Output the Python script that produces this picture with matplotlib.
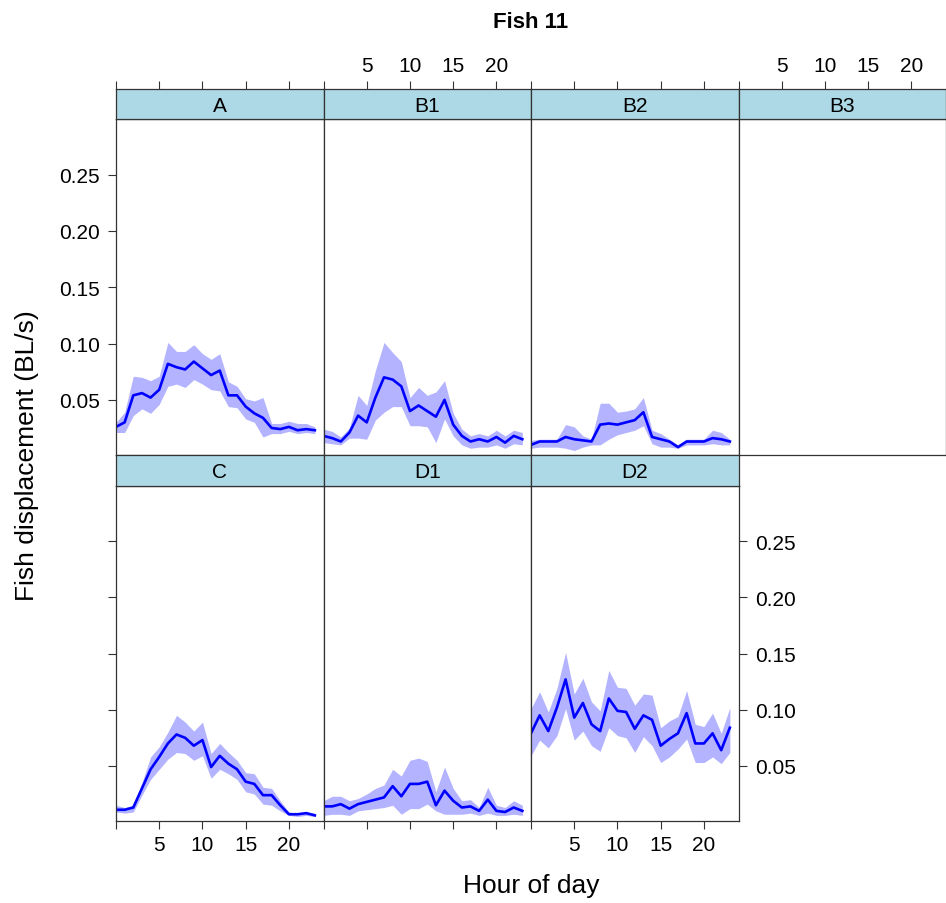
import numpy as np
import matplotlib
matplotlib.use("Agg")
import matplotlib.pyplot as plt

plt.rcParams["font.family"] = ["Liberation Sans", "DejaVu Sans"]

hours = np.arange(24)

a_mean = [0.026, 0.030, 0.054, 0.056, 0.052, 0.059, 0.082, 0.079, 0.077, 0.084, 0.078, 0.072,
          0.076, 0.054, 0.054, 0.044, 0.038, 0.034, 0.025, 0.024, 0.026, 0.023, 0.024, 0.023]
a_hi = [0.030, 0.039, 0.071, 0.070, 0.067, 0.071, 0.101, 0.093, 0.093, 0.099, 0.091, 0.086,
        0.091, 0.066, 0.062, 0.051, 0.049, 0.052, 0.029, 0.029, 0.031, 0.029, 0.029, 0.026]
a_lo = [0.021, 0.021, 0.036, 0.042, 0.038, 0.046, 0.062, 0.064, 0.061, 0.068, 0.064, 0.059,
        0.058, 0.044, 0.043, 0.033, 0.030, 0.017, 0.020, 0.020, 0.022, 0.020, 0.021, 0.020]

b1_mean = [0.018, 0.016, 0.013, 0.021, 0.036, 0.030, 0.052, 0.070, 0.068, 0.062, 0.040, 0.045,
           0.040, 0.035, 0.050, 0.028, 0.018, 0.013, 0.015, 0.013, 0.017, 0.012, 0.018, 0.015]
b1_hi = [0.024, 0.022, 0.017, 0.025, 0.054, 0.045, 0.076, 0.101, 0.092, 0.084, 0.052, 0.061,
         0.054, 0.057, 0.067, 0.038, 0.024, 0.018, 0.020, 0.018, 0.023, 0.018, 0.023, 0.021]
b1_lo = [0.012, 0.011, 0.010, 0.016, 0.016, 0.015, 0.032, 0.039, 0.044, 0.044, 0.027, 0.027,
         0.026, 0.012, 0.033, 0.018, 0.010, 0.007, 0.008, 0.008, 0.010, 0.007, 0.011, 0.010]

b2_mean = [0.010, 0.013, 0.013, 0.013, 0.017, 0.015, 0.014, 0.013, 0.028, 0.029, 0.028, 0.030,
           0.032, 0.039, 0.017, 0.015, 0.013, 0.008, 0.013, 0.013, 0.013, 0.016, 0.015, 0.013]
b2_hi = [0.014, 0.015, 0.015, 0.015, 0.028, 0.026, 0.018, 0.015, 0.047, 0.047, 0.039, 0.040,
         0.042, 0.052, 0.023, 0.020, 0.015, 0.010, 0.015, 0.015, 0.015, 0.023, 0.021, 0.015]
b2_lo = [0.007, 0.008, 0.008, 0.008, 0.007, 0.005, 0.008, 0.010, 0.010, 0.015, 0.019, 0.021,
         0.023, 0.027, 0.011, 0.008, 0.008, 0.007, 0.010, 0.010, 0.010, 0.011, 0.010, 0.010]

c_mean = [0.011, 0.011, 0.013, 0.030, 0.047, 0.058, 0.070, 0.078, 0.075, 0.068, 0.073, 0.049,
          0.059, 0.052, 0.047, 0.036, 0.034, 0.024, 0.024, 0.015, 0.007, 0.007, 0.008, 0.006]
c_hi = [0.015, 0.013, 0.015, 0.035, 0.058, 0.067, 0.080, 0.095, 0.089, 0.081, 0.089, 0.061,
        0.070, 0.062, 0.055, 0.044, 0.043, 0.031, 0.030, 0.019, 0.009, 0.008, 0.009, 0.008]
c_lo = [0.009, 0.008, 0.009, 0.024, 0.038, 0.047, 0.056, 0.062, 0.061, 0.055, 0.059, 0.039,
        0.047, 0.043, 0.038, 0.027, 0.025, 0.016, 0.015, 0.010, 0.006, 0.005, 0.006, 0.005]

d1_mean = [0.014, 0.014, 0.016, 0.012, 0.016, 0.018, 0.020, 0.022, 0.032, 0.023, 0.034, 0.034,
           0.036, 0.015, 0.028, 0.019, 0.013, 0.014, 0.010, 0.020, 0.010, 0.009, 0.013, 0.010]
d1_hi = [0.019, 0.023, 0.023, 0.019, 0.021, 0.025, 0.030, 0.033, 0.047, 0.041, 0.055, 0.057,
         0.054, 0.027, 0.049, 0.030, 0.019, 0.020, 0.013, 0.031, 0.015, 0.013, 0.019, 0.015]
d1_lo = [0.006, 0.007, 0.007, 0.006, 0.010, 0.011, 0.012, 0.013, 0.015, 0.007, 0.012, 0.012,
         0.016, 0.010, 0.007, 0.007, 0.007, 0.008, 0.006, 0.008, 0.006, 0.006, 0.007, 0.006]

d2_mean = [0.079, 0.095, 0.081, 0.102, 0.127, 0.093, 0.106, 0.087, 0.081, 0.110, 0.099, 0.098,
           0.083, 0.095, 0.091, 0.068, 0.074, 0.079, 0.097, 0.070, 0.070, 0.079, 0.064, 0.084]
d2_hi = [0.101, 0.116, 0.098, 0.119, 0.151, 0.114, 0.128, 0.107, 0.099, 0.135, 0.120, 0.119,
         0.104, 0.114, 0.113, 0.084, 0.090, 0.094, 0.117, 0.087, 0.085, 0.097, 0.079, 0.102]
d2_lo = [0.059, 0.073, 0.066, 0.077, 0.101, 0.073, 0.081, 0.068, 0.063, 0.084, 0.077, 0.075,
         0.062, 0.076, 0.068, 0.053, 0.058, 0.065, 0.074, 0.053, 0.053, 0.058, 0.052, 0.062]

x_ticks = [0, 5, 10, 15, 20]
x_labels = ["", "5", "10", "15", "20"]
y_ticks = [0.05, 0.10, 0.15, 0.20, 0.25]
y_labels = ["0.05", "0.10", "0.15", "0.20", "0.25"]

# name, row, col, data
panels = [
    ("A", 0, 0, (a_mean, a_lo, a_hi)),
    ("B1", 0, 1, (b1_mean, b1_lo, b1_hi)),
    ("B2", 0, 2, (b2_mean, b2_lo, b2_hi)),
    ("B3", 0, 3, None),
    ("C", 1, 0, (c_mean, c_lo, c_hi)),
    ("D1", 1, 1, (d1_mean, d1_lo, d1_hi)),
    ("D2", 1, 2, (d2_mean, d2_lo, d2_hi)),
]

W, H = 946, 904
fig = plt.figure(figsize=(W / 100, H / 100), dpi=100)

left0, pw = 116, 207.5
strip_top = [89.5, 456]
panel_top = [120, 486.5]
panel_bot = [456, 822]

frame = "#333333"
tick_kw = dict(direction="out", length=5.8, width=0.8, color=frame,
               labelsize=15, labelcolor="black", pad=4)


def fx(px):
    return px / W


def fy(py):
    return 1 - py / H


for name, row, col, data in panels:
    x0 = left0 + col * pw
    ax = fig.add_axes([fx(x0), fy(panel_bot[row]), pw / W,
                       (panel_bot[row] - panel_top[row]) / H])
    sx = fig.add_axes([fx(x0), fy(panel_top[row]), pw / W,
                       (panel_top[row] - strip_top[row]) / H])

    if data is not None:
        mean, lo, hi = data
        ax.fill_between(hours, lo, hi, color="#b3b3ff", lw=0, zorder=1)
        ax.plot(hours, mean, color="blue", lw=1.9, zorder=2)

    ax.set_xlim(0, 24)
    ax.set_ylim(0.001, 0.2995)
    for sp in ax.spines.values():
        sp.set_color(frame)
        sp.set_linewidth(0.9)

    ax.tick_params(**tick_kw)
    ax.set_xticks(x_ticks)
    ax.set_yticks(y_ticks)

    # bottom axis only on the bottom row, labels alternate C / D2
    if row == 1:
        ax.tick_params(axis="x", bottom=True, labelbottom=(col != 1))
        ax.set_xticklabels(x_labels)
    else:
        ax.tick_params(axis="x", bottom=False, labelbottom=False)

    # left axis on first column, right axis on D2
    left_on = col == 0
    right_on = row == 1 and col == 2
    ax.tick_params(axis="y", left=left_on, labelleft=(left_on and row == 0),
                   right=right_on, labelright=right_on, pad=6)
    ax.set_yticklabels(y_labels)

    # strip with the top axis for the upper row
    sx.set_facecolor("#add8e6")
    sx.set_xlim(0, 24)
    sx.set_ylim(0, 1)
    sx.set_yticks([])
    for sp in sx.spines.values():
        sp.set_color(frame)
        sp.set_linewidth(0.9)
    sx.text(12, 0.45, name, ha="center", va="center", fontsize=15)
    sx.tick_params(**tick_kw)
    sx.set_xticks(x_ticks)
    sx.set_xticklabels(x_labels)
    if row == 0:
        sx.tick_params(axis="x", bottom=False, labelbottom=False, top=True,
                       labeltop=(col in (1, 3)))
    else:
        sx.tick_params(axis="x", bottom=False, labelbottom=False, top=False,
                       labeltop=False)

fig.text(fx(531), fy(22), "Fish 11", ha="center", va="center",
         fontsize=16, fontweight="bold")
fig.text(fx(531), fy(886), "Hour of day", ha="center", va="center", fontsize=19)
fig.text(fx(27), fy(456), "Fish displacement (BL/s)", ha="center", va="center",
         rotation=90, fontsize=19)

fig.savefig("out.png", dpi=100)
